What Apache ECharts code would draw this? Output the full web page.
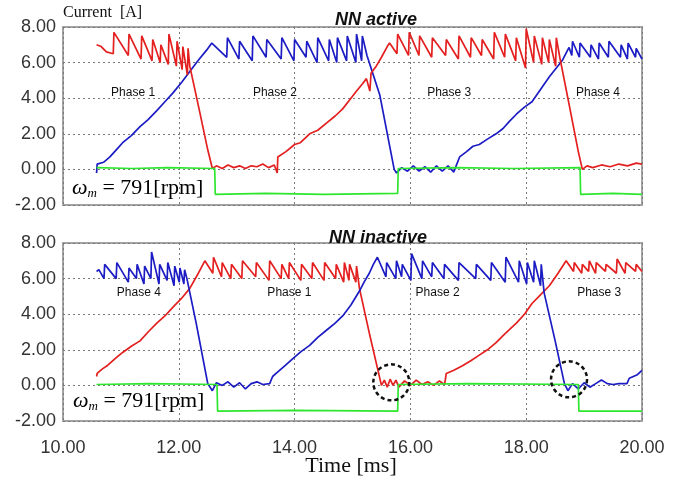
<!DOCTYPE html>
<html>
<head>
<meta charset="utf-8">
<script src="https://cdn.jsdelivr.net/npm/echarts@6.0.0/dist/echarts.min.js"></script>
<style>
  html, body { margin: 0; padding: 0; background: #fff; }
  #chart { width: 681px; height: 486px; }
</style>
</head>
<body>
<div id="chart"></div>
<script>
// x in ms, y in A

// ---- NN active (top) ----
var topRedRise = [[10.58,7.0],[10.66,6.9],[10.75,6.6]];
var topRedPeaksA = [10.88,11.14,11.36,11.55,11.69,11.83,11.97,12.07,12.16];
var topRedHighA  = [7.7,7.6,7.5,7.3,7.0,7.6,7.2,6.9,6.8];
var topRedLowA   = [6.5,6.4,6.2,6.1,6.0,5.9,5.8,5.6,5.3];
var topRedMid = [[12.19,5.8],[12.35,3.4],[12.50,1.1],[12.58,0.05],[12.65,0.2],[12.75,0.05],[12.85,0.25],
  [12.95,0.1],[13.05,0.2],[13.15,0.05],[13.25,0.2],[13.35,0.15],[13.45,0.3],[13.55,0.1],[13.65,0.25],
  [13.70,-0.2],[13.71,0.7],[13.85,1.0],[14.0,1.4],[14.1,1.5],[14.26,2.0],[14.4,2.2],[14.55,2.6],[14.7,3.0],
  [14.83,3.4],[14.95,3.9],[15.07,4.4],[15.17,4.8],[15.24,5.1],[15.30,4.4],[15.32,5.4],[15.41,5.8],
  [15.5,6.3],[15.6,6.9],[15.64,7.1]];
var topRedPeaksB = [15.78,15.98,16.16,16.38,16.62,16.84,17.05,17.24,17.45,17.64,17.83,18.0,18.14,18.28,18.40,18.52];
var topRedHighB  = [7.6,7.7,7.5,7.4,7.3,7.5,7.4,7.3,7.7,7.6,7.4,7.9,7.5,7.4,7.3,7.4];
var topRedLowB   = [6.5,6.4,6.4,6.3,6.4,6.2,6.3,6.4,6.2,6.3,6.1,5.7,6.0,5.9,6.0,5.8];
var topRedEnd = [[18.58,6.3],[18.75,3.5],[18.9,1.0],[18.97,0.0],[19.05,0.2],[19.15,0.1],[19.3,0.25],
  [19.45,0.15],[19.6,0.3],[19.75,0.2],[19.9,0.35],[20,0.3]];

var topBlueRise = [[10.58,-0.2],[10.59,0.3],[10.7,0.4],[10.81,0.7],[10.92,1.1],[11.03,1.5],[11.18,1.9],
  [11.33,2.4],[11.47,2.8],[11.62,3.3],[11.76,3.8],[11.9,4.3],[12.05,4.9],[12.19,5.5],[12.33,6.1],
  [12.48,6.7],[12.57,7.1]];
var topBluePeaksA = [12.84,13.05,13.28,13.52,13.78,14.0,14.21,14.4,14.6,14.74,14.91,15.07,15.17];
var topBlueHighA  = [7.4,7.2,7.5,7.3,7.4,7.3,7.2,7.4,7.3,7.4,7.5,7.6,7.5];
var topBlueLowA   = [6.3,6.2,6.1,6.3,6.2,6.1,6.3,6.0,6.1,6.0,6.1,6.0,6.1];
var topBlueMid = [[15.25,6.4],[15.47,4.2],[15.72,0.0],[15.76,-0.2],[15.85,0.1],[15.95,-0.1],[16.05,0.2],
  [16.15,-0.1],[16.25,0.15],[16.35,-0.15],[16.45,0.2],[16.55,-0.1],[16.65,0.2],[16.75,-0.15],[16.79,0.2],
  [16.85,0.7],[16.97,1.0],[17.08,1.3],[17.19,1.4],[17.33,1.7],[17.48,2.0],[17.6,2.3],[17.71,2.7],
  [17.83,3.1],[17.97,3.5],[18.10,3.8],[18.25,4.5],[18.4,5.2],[18.52,5.7],[18.62,6.1],[18.74,6.85]];
var topBluePeaksB = [18.80,18.93,19.12,19.26,19.43,19.64,19.76,19.90];
var topBlueHighB  = [7.2,7.1,7.0,7.1,7.2,7.0,7.1,6.8];
var topBlueLowB   = [6.4,6.3,6.3,6.2,6.3,6.3,6.2,6.3];
var topBlueEnd = [[20,6.2]];

var topGreen = [[10.58,0.1],[11.2,0.05],[11.8,0.1],[12.62,0.05],[12.63,-1.4],[13.5,-1.35],[14.5,-1.4],
  [15.78,-1.35],[15.79,0.05],[16.8,0.1],[17.8,0.05],[18.93,0.1],[18.94,-1.4],[19.5,-1.35],[20,-1.4]];

// ---- NN inactive (bottom) ----
var botBlueStart = [[10.58,6.4],[10.62,6.5]];
var botBluePeaksA = [10.72,10.93,11.14,11.28,11.41,11.53,11.67,11.81,11.93,12.02,12.10];
var botBlueHighA  = [6.8,6.9,6.6,6.8,6.7,7.5,6.8,6.9,6.7,6.6,6.5];
var botBlueLowA   = [6.0,6.0,5.8,6.0,5.7,6.0,5.7,5.9,5.6,5.8,5.7];
var botBlueMid = [[12.14,6.0],[12.3,3.5],[12.5,0.1],[12.58,-0.3],[12.65,0.15],[12.75,0.0],[12.85,0.2],
  [12.95,-0.1],[13.05,0.15],[13.15,-0.2],[13.25,0.1],[13.35,0.2],[13.45,0.05],[13.57,0.1],[13.62,0.5],
  [13.69,0.7],[13.83,1.1],[13.97,1.5],[14.11,1.9],[14.26,2.25],[14.4,2.7],[14.55,3.1],[14.7,3.5],
  [14.83,3.9],[14.97,4.5],[15.12,5.3],[15.2,5.8],[15.29,6.3],[15.36,6.8],[15.43,7.2]];
var botBluePeaksB = [15.59,15.76,15.86,16.02,16.21,16.38,16.59,16.84,17.14,17.40,17.65,17.88,18.02,18.14,18.26];
var botBlueHighB  = [6.9,7.0,6.8,7.4,7.0,6.9,6.8,6.9,6.8,6.9,7.2,7.0,6.9,7.0,6.8];
var botBlueLowB   = [6.1,6.0,6.1,5.9,6.0,6.1,6.0,5.9,6.0,5.9,5.8,5.8,5.7,5.8,5.6];
var botBlueEnd = [[18.31,5.2],[18.5,2.5],[18.66,0.1],[18.72,-0.3],[18.8,0.1],[18.9,-0.2],[19.0,0.15],
  [19.1,-0.1],[19.2,0.1],[19.3,0.3],[19.4,0.1],[19.5,0.05],[19.6,0.1],[19.74,0.1],[19.78,0.4],
  [19.85,0.5],[19.92,0.6],[20,0.85]];

var botRedRise = [[10.58,0.5],[10.59,0.67],[10.67,0.9],[10.76,1.1],[10.9,1.5],[11.03,1.85],[11.18,2.2],
  [11.33,2.5],[11.47,3.0],[11.62,3.5],[11.76,3.9],[11.9,4.4],[12.05,4.9],[12.19,5.45],[12.32,6.2],[12.45,7.0]];
var botRedPeaksA = [12.60,12.75,12.91,13.10,13.34,13.57,13.78,13.91,14.12,14.31,14.52,14.72,14.86,14.95,15.07];
var botRedHighA  = [7.2,6.9,6.8,7.0,6.9,7.0,6.8,6.9,6.8,6.9,6.9,6.8,6.9,6.8,6.7];
var botRedLowA   = [6.3,6.1,6.0,6.0,6.1,5.9,6.0,6.0,5.9,6.0,5.9,6.0,5.8,5.9,5.8];
var botRedMid = [[15.12,5.45],[15.3,2.8],[15.5,0.0],[15.55,0.3],[15.6,-0.1],[15.65,0.35],[15.7,0.0],
  [15.75,0.3],[15.8,-0.1],[15.9,0.25],[16.0,0.0],[16.1,0.3],[16.2,0.05],[16.3,0.2],[16.4,0.0],
  [16.5,0.25],[16.59,0.05],[16.62,0.67],[16.75,0.85],[16.9,1.1],[17.05,1.4],[17.19,1.7],[17.33,2.0],
  [17.48,2.4],[17.6,2.8],[17.7,3.1],[17.83,3.5],[17.97,4.0],[18.1,4.6],[18.25,5.1],[18.4,5.6],
  [18.55,6.3],[18.69,7.0]];
var botRedPeaksB = [18.83,18.97,19.09,19.21,19.38,19.57,19.72,19.90];
var botRedHighB  = [6.9,6.8,7.0,6.9,6.8,7.1,6.9,6.8];
var botRedLowB   = [6.4,6.3,6.4,6.3,6.4,6.3,6.3,6.4];
var botRedEnd = [[20,6.4]];

var botGreen = [[10.58,0.05],[11.5,0.1],[12.66,0.05],[12.67,-1.45],[14,-1.4],[15.78,-1.45],[15.79,0.05],
  [17,0.1],[18.9,0.05],[18.91,-1.45],[20,-1.45]];

var xTicks = [10, 12, 14, 16, 18, 20];
var yTicks = [-2, 0, 2, 4, 6, 8];

// phase names and where they sit (ms, A)
var topPhases = [['Phase 1', 11.21, 4.33], ['Phase 2', 13.66, 4.33], ['Phase 3', 16.67, 4.33], ['Phase 4', 19.24, 4.33]];
var botPhases = [['Phase 4', 11.31, 5.2], ['Phase 1', 13.91, 5.2], ['Phase 2', 16.47, 5.2], ['Phase 3', 19.26, 5.2]];
var circles = [[15.67, 0.17], [18.74, 0.34]];

// valley just before each spike, then the spike top
function teeth(peaks, highs, lows) {
    var out = [];
    peaks.forEach(function (t, i) {
        out.push([t - 0.012, lows[i]]);
        out.push([t, highs[i]]);
    });
    return out;
}

var topRed = [].concat(topRedRise, teeth(topRedPeaksA, topRedHighA, topRedLowA), topRedMid,
    teeth(topRedPeaksB, topRedHighB, topRedLowB), topRedEnd);
var topBlue = [].concat(topBlueRise, teeth(topBluePeaksA, topBlueHighA, topBlueLowA), topBlueMid,
    teeth(topBluePeaksB, topBlueHighB, topBlueLowB), topBlueEnd);
var botRed = [].concat(botRedRise, teeth(botRedPeaksA, botRedHighA, botRedLowA), botRedMid,
    teeth(botRedPeaksB, botRedHighB, botRedLowB), botRedEnd);
var botBlue = [].concat(botBlueStart, teeth(botBluePeaksA, botBlueHighA, botBlueLowA), botBlueMid,
    teeth(botBluePeaksB, botBlueHighB, botBlueLowB), botBlueEnd);

var RED = '#e3201f', BLUE = '#1c1cc4', GREEN = '#2ee62e';
var SANS = 'Liberation Sans, Arial, sans-serif';
var SERIF = 'Liberation Serif, Times New Roman, serif';

var chart = echarts.init(document.getElementById('chart'));

function xAxisFor(grid, showLabels) {
    return {
        type: 'value', gridIndex: grid, min: xTicks[0], max: xTicks[xTicks.length - 1], interval: 2,
        axisLine: { show: false }, axisTick: { show: false },
        axisLabel: {
            show: showLabels, margin: 18, fontSize: 18, color: '#333', fontFamily: SANS,
            formatter: function (v) { return v.toFixed(2); }
        },
        splitLine: { show: true, lineStyle: { color: '#7a7a7a', type: [2, 3], width: 1 } }
    };
}

function yAxisFor(grid) {
    return {
        type: 'value', gridIndex: grid, min: yTicks[0], max: yTicks[yTicks.length - 1], interval: 2,
        axisLine: { show: false }, axisTick: { show: false },
        axisLabel: {
            margin: 7, fontSize: 18, color: '#333', fontFamily: SANS,
            formatter: function (v) { return v.toFixed(2); }
        },
        splitLine: { show: true, lineStyle: { color: '#7a7a7a', type: [2, 3], width: 1 } }
    };
}

function line(name, data, color, grid) {
    return {
        name: name, type: 'line', xAxisIndex: grid, yAxisIndex: grid, data: data,
        showSymbol: false, symbol: 'none', lineStyle: { color: color, width: 1.7 },
        itemStyle: { color: color }, z: name.indexOf('green') >= 0 ? 4 : 3
    };
}

var option = {
    animation: false,
    backgroundColor: '#fff',
    grid: [
        { left: 63, top: 27, width: 579, height: 178, show: true, borderColor: '#a3a3a3', borderWidth: 2 },
        { left: 63, top: 243, width: 579, height: 178, show: true, borderColor: '#a3a3a3', borderWidth: 2 }
    ],
    xAxis: [xAxisFor(0, false), xAxisFor(1, true)],
    yAxis: [yAxisFor(0), yAxisFor(1)],
    series: [
        line('top blue', topBlue, BLUE, 0),
        line('top red', topRed, RED, 0),
        line('top green', topGreen, GREEN, 0),
        line('bot red', botRed, RED, 1),
        line('bot blue', botBlue, BLUE, 1),
        line('bot green', botGreen, GREEN, 1)
    ]
};
chart.setOption(option);

var omegaRich = {
    w: { fontFamily: SERIF, fontStyle: 'italic', fontSize: 22, color: '#111' },
    s: { fontFamily: SERIF, fontStyle: 'italic', fontSize: 13, color: '#111', padding: [12, 0, 0, 0] },
    r: { fontFamily: SERIF, fontSize: 22, color: '#111' }
};

var graphics = [
    { type: 'text', left: 63, top: 5, style: { text: 'Current  [A]', font: '16px ' + SERIF, fill: '#111' } },
    { type: 'text', x: 376, y: 20, style: { text: 'NN active', font: 'italic bold 18px ' + SANS, fill: '#111', textAlign: 'center', textVerticalAlign: 'middle' } },
    { type: 'text', x: 378, y: 238, style: { text: 'NN inactive', font: 'italic bold 18px ' + SANS, fill: '#111', textAlign: 'center', textVerticalAlign: 'middle' } },
    { type: 'text', x: 351, y: 466, style: { text: 'Time [ms]', font: '22px ' + SERIF, fill: '#111', textAlign: 'center', textVerticalAlign: 'middle' } },
    { type: 'text', x: 72, y: 188, style: { text: '{w|ω}{s|m}{r| = 791[rpm]}', rich: omegaRich, textVerticalAlign: 'middle' } },
    { type: 'text', x: 73, y: 401, style: { text: '{w|ω}{s|m}{r| = 791[rpm]}', rich: omegaRich, textVerticalAlign: 'middle' } }
];

topPhases.forEach(function (p) {
    var pt = chart.convertToPixel({ xAxisIndex: 0, yAxisIndex: 0 }, [p[1], p[2]]);
    graphics.push({ type: 'text', x: pt[0], y: pt[1], z: 10,
        style: { text: p[0], font: '12px ' + SANS, fill: '#111', textAlign: 'center', textVerticalAlign: 'middle' } });
});
botPhases.forEach(function (p) {
    var pt = chart.convertToPixel({ xAxisIndex: 1, yAxisIndex: 1 }, [p[1], p[2]]);
    graphics.push({ type: 'text', x: pt[0], y: pt[1], z: 10,
        style: { text: p[0], font: '12px ' + SANS, fill: '#111', textAlign: 'center', textVerticalAlign: 'middle' } });
});
circles.forEach(function (c) {
    var pt = chart.convertToPixel({ xAxisIndex: 1, yAxisIndex: 1 }, c);
    graphics.push({ type: 'circle', z: 10, shape: { cx: pt[0], cy: pt[1], r: 18 },
        style: { fill: 'none', stroke: '#111', lineWidth: 2.5, lineDash: [4, 3] } });
});

chart.setOption({ graphic: graphics });
</script>
</body>
</html>
